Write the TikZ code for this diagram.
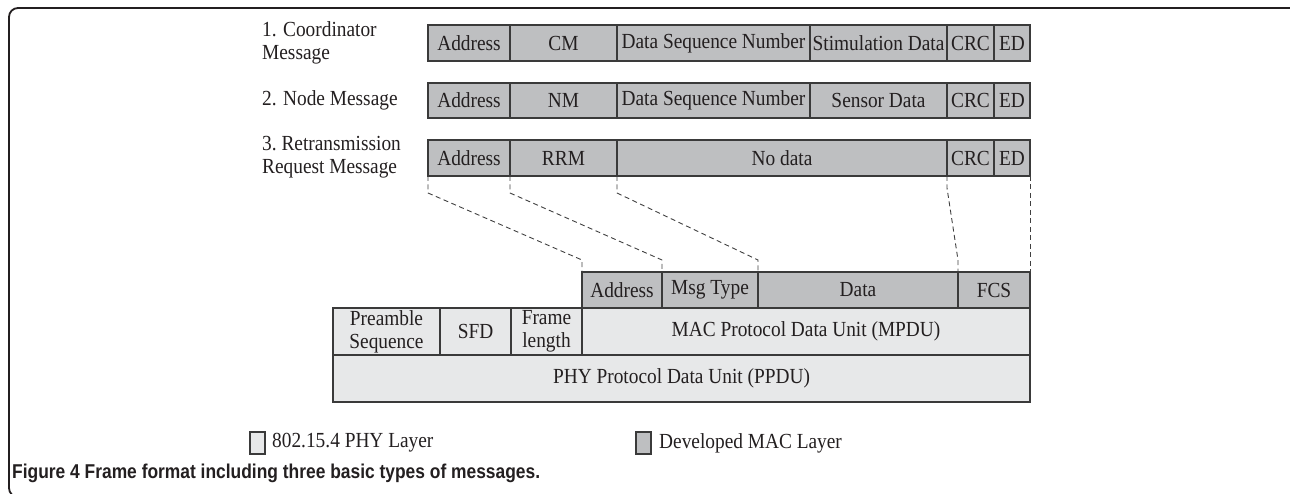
\documentclass[tikz,border=0pt]{standalone}
\usepackage{fontspec}
\setmainfont{Liberation Serif}[FakeStretch=0.9]
\newfontfamily\capfont{Liberation Sans}[FakeStretch=0.87]
\usetikzlibrary{calc}
\definecolor{macc}{HTML}{BEBFC1}
\definecolor{phyc}{HTML}{E7E8E9}
\definecolor{linec}{HTML}{3A3A3A}
\definecolor{dashc}{HTML}{404040}
\definecolor{txtc}{HTML}{231F20}
\newcommand{\cellbox}[7]{%
  \node[#1, minimum width={(#5-#3)*1pt}, minimum height={(#6-#4)*1pt}] (#2) at (#3,#4) {#7};}
\begin{document}
\begin{tikzpicture}[x=1pt,y=-1pt,
  txt/.style={font=\fontsize{21.5}{23}\selectfont, text=txtc},
  cell/.style={txt, draw=linec, line width=1.2pt, inner sep=0pt, outer sep=0pt,
     anchor=north west, align=center},
  mac/.style={cell, fill=macc},
  phy/.style={cell, fill=phyc},
  link/.style={draw=dashc, line width=0.9pt, dash pattern=on 5pt off 3.5pt}]
\useasboundingbox (0,0) rectangle (1290,494);
\begin{scope}
  \clip (0,0) rectangle (1290,494);
  \draw[line width=1.8pt, rounded corners=9pt, draw=txtc] (9,8) rectangle (1300,497);
\end{scope}

% left labels
\node[txt, anchor=west, align=left, inner sep=0pt] (l1) at (262,43) {1. Coordinator\\Message};
\node[txt, anchor=west, align=left, inner sep=0pt] (l2) at (262,100) {2. Node Message};
\node[txt, anchor=west, align=left, inner sep=0pt] (l3) at (262,157) {3.\ Retransmission\\Request Message};

% row 1
\cellbox{mac}{a1}{428}{25}{510}{61}{Address}
\cellbox{mac}{b1}{510}{25}{617}{61}{CM}
\cellbox{mac}{c1}{617}{25}{810}{61}{Data Sequence Number}
\cellbox{mac}{d1}{810}{25}{947}{61}{Stimulation Data}
\cellbox{mac}{e1}{947}{25}{994}{61}{CRC}
\cellbox{mac}{f1}{994}{25}{1030}{61}{ED}
% row 2
\cellbox{mac}{a2}{428}{83}{510}{118}{Address}
\cellbox{mac}{b2}{510}{83}{617}{118}{NM}
\cellbox{mac}{c2}{617}{83}{810}{118}{Data Sequence Number}
\cellbox{mac}{d2}{810}{83}{947}{118}{Sensor Data}
\cellbox{mac}{e2}{947}{83}{994}{118}{CRC}
\cellbox{mac}{f2}{994}{83}{1030}{118}{ED}
% row 3
\cellbox{mac}{a3}{428}{140}{510}{176}{Address}
\cellbox{mac}{b3}{510}{140}{617}{176}{RRM}
\cellbox{mac}{c3}{617}{140}{947}{176}{No data}
\cellbox{mac}{e3}{947}{140}{994}{176}{CRC}
\cellbox{mac}{f3}{994}{140}{1030}{176}{ED}

% MAC frame
\cellbox{mac}{ma}{582}{272}{662}{308}{Address}
\cellbox{mac}{mb}{662}{272}{758}{308}{Msg Type}
\cellbox{mac}{mc}{758}{272}{958}{308}{Data}
\cellbox{mac}{md}{958}{272}{1030}{308}{FCS}
% PHY frame
\cellbox{phy}{pa}{333}{308}{440}{355}{Preamble\\Sequence}
\cellbox{phy}{pb}{440}{308}{511}{355}{SFD}
\cellbox{phy}{pc}{511}{308}{582}{355}{Frame\\length}
\cellbox{phy}{pd}{582}{308}{1030}{355}{MAC Protocol Data Unit (MPDU)}
\cellbox{phy}{pe}{333}{355}{1030}{402}{PHY Protocol Data Unit (PPDU)}

% dashed links
\draw[link] (a3.south west) -- ++(0,17) -- ($(ma.north west)+(0,-12)$) -- (ma.north west);
\draw[link] (b3.south west) -- ++(0,17) -- ($(mb.north west)+(0,-12)$) -- (mb.north west);
\draw[link] (c3.south west) -- ++(0,17) -- ($(mc.north west)+(0,-12)$) -- (mc.north west);
\draw[link] (e3.south west) -- ++(0,12) -- ($(md.north west)+(0,-12)$) -- (md.north west);
\draw[link] (f3.south east) -- (md.north east);

% legend
\node[phy, minimum width=15pt, minimum height=22pt, anchor=west] (lg1) at (250,443) {};
\node[txt, anchor=west, inner sep=0pt] (lt1) at (272,443) {802.15.4 PHY Layer};
\node[mac, minimum width=15pt, minimum height=22pt, anchor=west] (lg2) at (636,443) {};
\node[txt, anchor=west, inner sep=0pt] (lt2) at (659,443) {Developed MAC Layer};

% caption
\node[anchor=west, inner sep=0pt, text=txtc, font=\capfont\bfseries\fontsize{20}{24}\selectfont] (cap) at (12,473)
  {Figure 4 Frame format including three basic types of messages.};
\end{tikzpicture}
\end{document}
